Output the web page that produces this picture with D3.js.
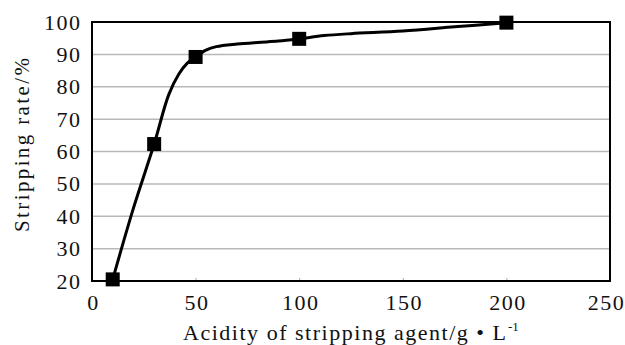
<!DOCTYPE html>
<html>
<head>
<meta charset="utf-8">
<script src="https://cdn.jsdelivr.net/npm/d3@7"></script>
<style>
  html, body { margin: 0; padding: 0; background: #fff; }
</style>
</head>
<body>
<div id="chart"></div>
<script>
// measured points (markers)
const acidity = [10, 30, 50, 100, 200];
const stripRate = [20.5, 62.3, 89.2, 94.8, 99.8];

// smoothed curve as drawn in the figure
const curveX = [10, 20, 30, 37, 42, 46, 50, 55, 60, 70, 80, 90, 100, 112, 125, 150, 175, 200];
const curveY = [20.5, 42.5, 62.3, 77.5, 84, 87.3, 89.2, 91.3, 92.4, 93.2, 93.7, 94.1, 94.8, 95.8, 96.4, 97.2, 98.5, 99.8];

const xTicks = [0, 50, 100, 150, 200, 250];
const yTicks = [20, 30, 40, 50, 60, 70, 80, 90, 100];

const FONT = '"Liberation Serif", "Times New Roman", Tinos, Times, serif';
const width = 625, height = 345;
const margin = {top: 22, right: 15, bottom: 64, left: 92};
const w = width - margin.left - margin.right;
const h = height - margin.top - margin.bottom;

const svg = d3.select('#chart')
  .append('svg')
  .attr('width', width)
  .attr('height', height)
  .attr('font-family', 'Liberation Serif');

const g = svg.append('g')
  .attr('transform', 'translate(' + margin.left + ',' + margin.top + ')');

const x = d3.scaleLinear().domain([0, 250]).range([0, w]);
const y = d3.scaleLinear().domain([20, 100]).range([h, 0]);

// gridlines
g.append('g')
  .selectAll('line')
  .data(yTicks.slice(1, -1))
  .enter()
  .append('line')
  .attr('x1', 0).attr('x2', w)
  .attr('y1', d => y(d)).attr('y2', d => y(d))
  .style('stroke', '#b8b8b8')
  .style('stroke-width', 1.5);

// x axis ticks (inside, small)
const xAxis = g.append('g')
  .attr('transform', 'translate(0,' + h + ')')
  .call(d3.axisBottom(x).tickValues(xTicks).tickSize(-3).tickPadding(13));
xAxis.attr('font-family', null);
xAxis.select('.domain').remove();
xAxis.selectAll('line').style('stroke', '#aaa');
xAxis.selectAll('text')
  .style('font-family', FONT)
  .style('font-size', '22px')
  .style('letter-spacing', '1.5px')
  .style('fill', '#111')
  .attr('dx', d => d === 250 ? -4 : 1)
  .attr('dy', '0.71em');

const yAxis = g.append('g')
  .call(d3.axisLeft(y).tickValues(yTicks).tickSize(0).tickPadding(10.5));
yAxis.attr('font-family', null);
yAxis.select('.domain').remove();
yAxis.selectAll('text')
  .style('font-family', FONT)
  .style('font-size', '22px')
  .style('letter-spacing', '1.5px')
  .style('fill', '#111');

// frame
g.append('rect')
  .attr('x', 0).attr('y', 0)
  .attr('width', w).attr('height', h)
  .style('fill', 'none')
  .style('stroke', '#000')
  .style('stroke-width', 2);

// curve
const line = d3.line()
  .x(d => x(d[0]))
  .y(d => y(d[1]))
  .curve(d3.curveCatmullRom.alpha(0.5));

g.append('path')
  .datum(curveX.map((v, i) => [v, curveY[i]]))
  .attr('d', line)
  .style('fill', 'none')
  .style('stroke', '#000')
  .style('stroke-width', 3)
  .style('stroke-linejoin', 'round');

// markers
const s = 14;
g.append('g')
  .selectAll('rect')
  .data(acidity.map((v, i) => [v, stripRate[i]]))
  .enter()
  .append('rect')
  .attr('x', d => x(d[0]) - s / 2)
  .attr('y', d => y(d[1]) - s / 2)
  .attr('width', s)
  .attr('height', s)
  .style('fill', '#000');

// axis titles
svg.append('text')
  .attr('x', 183)
  .attr('y', 340)
  .attr('textLength', 323)
  .attr('lengthAdjust', 'spacing')
  .style('font-family', FONT)
  .style('font-size', '22px')
  .style('fill', '#111')
  .text('Acidity of stripping agent/g \u2022 L');
svg.append('text')
  .attr('x', 508)
  .attr('y', 331)
  .style('font-family', FONT)
  .style('font-size', '13px')
  .style('fill', '#111')
  .text('-1');

svg.append('text')
  .attr('transform', 'translate(29,232) rotate(-90)')
  .attr('textLength', 174)
  .attr('lengthAdjust', 'spacing')
  .style('font-family', FONT)
  .style('font-size', '21px')
  .style('fill', '#111')
  .text('Stripping rate/%');
</script>
</body>
</html>
